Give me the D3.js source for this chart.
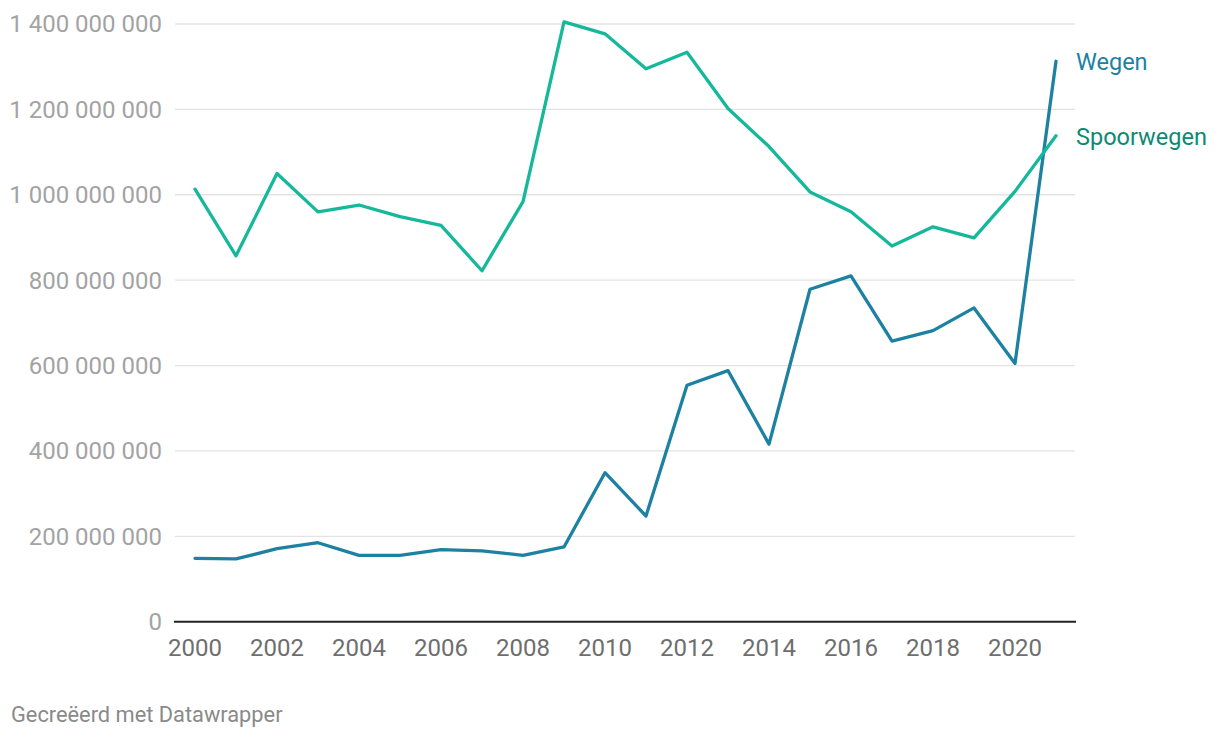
<!DOCTYPE html>
<html>
<head>
<meta charset="utf-8">
<script src="https://cdn.jsdelivr.net/npm/d3@7"></script>
<style>
  html, body { margin: 0; padding: 0; background: #fff; }
  svg { display: block; font-family: Roboto, "Noto Sans", sans-serif; }
</style>
</head>
<body>
<svg id="chart" width="1220" height="740"></svg>
<script>
const years = d3.range(2000, 2022);
const wegen = [148.5, 147, 171, 185, 155.5, 155.5, 169, 166, 155.5, 175, 349, 247.6, 553.7, 588, 416, 778.6, 810, 657, 681.7, 735, 605, 1312.7].map(v => v * 1e6);
const spoorwegen = [1013, 857, 1050, 960, 976, 949, 928.5, 822, 984, 1405, 1377, 1295, 1334, 1202, 1113, 1006.6, 960, 880, 925, 899, 1008, 1138].map(v => v * 1e6);
const yTicks = [0, 200e6, 400e6, 600e6, 800e6, 1000e6, 1200e6, 1400e6];
const xTicks = [2000, 2002, 2004, 2006, 2008, 2010, 2012, 2014, 2016, 2018, 2020];
const seriesNames = ["Wegen", "Spoorwegen"];

const svg = d3.select("#chart");
const x = d3.scaleLinear().domain([2000, 2021]).range([195, 1056]);
const y = d3.scaleLinear().domain([0, 1400e6]).range([621.7, 24]);
const locale = d3.formatLocale({decimal: ",", thousands: "\u2009", grouping: [3], currency: ["€", ""]});
const fmt = v => locale.format(",")(v).replace(/\u2009/g, " ");

// gridlines
svg.append("g").selectAll("line").data(yTicks.filter(d => d > 0)).join("line")
  .attr("x1", 175).attr("x2", 1075)
  .attr("y1", d => y(d)).attr("y2", d => y(d))
  .attr("stroke", "#e3e3e3").attr("stroke-width", 1.3);

// y labels
svg.append("g").selectAll("text").data(yTicks).join("text")
  .attr("x", 162).attr("y", d => y(d)).attr("dy", "0.35em")
  .attr("text-anchor", "end").attr("font-size", 24).attr("fill", "#a3a3a3")
  .text(d => fmt(d));

// baseline
svg.append("line").attr("x1", 174).attr("x2", 1076)
  .attr("y1", y(0)).attr("y2", y(0)).attr("stroke", "#222").attr("stroke-width", 2);

// x labels
svg.append("g").selectAll("text").data(xTicks).join("text")
  .attr("x", d => x(d)).attr("y", 656)
  .attr("text-anchor", "middle").attr("font-size", 24).attr("fill", "#6e6e6e")
  .text(d => d);

const line = d3.line().x((d, i) => x(years[i])).y(d => y(d));
const series = [
  {name: seriesNames[0], values: wegen, color: "#1d81a2", label: "#1d81a2"},
  {name: seriesNames[1], values: spoorwegen, color: "#15b89a", label: "#0c8a72"}
];
series.forEach(s => {
  svg.append("path").datum(s.values).attr("d", line)
    .attr("fill", "none").attr("stroke", s.color).attr("stroke-width", 3.3)
    .attr("stroke-linejoin", "round").attr("stroke-linecap", "round");
  svg.append("text").attr("x", 1076).attr("y", y(s.values[s.values.length - 1]) + 1).attr("dy", "0.35em")
    .attr("font-size", 23.5).attr("fill", s.label).text(s.name);
});

svg.append("text").attr("x", 11).attr("y", 722).attr("font-size", 21.8).attr("fill", "#8a8a8a")
  .text("Gecreëerd met Datawrapper");
</script>
</body>
</html>
